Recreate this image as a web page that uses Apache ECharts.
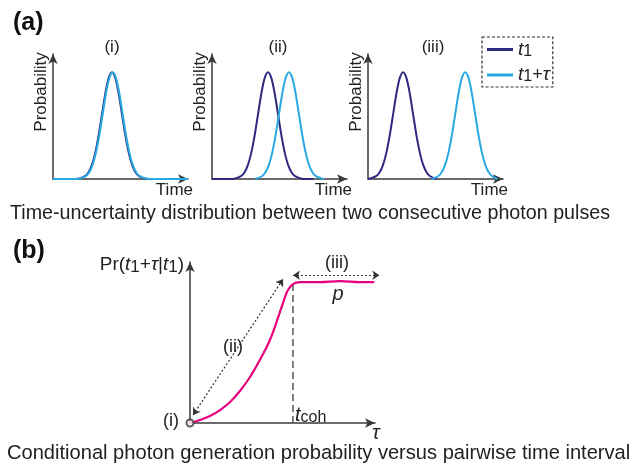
<!DOCTYPE html>
<html>
<head>
<meta charset="utf-8">
<script src="https://cdn.jsdelivr.net/npm/echarts@6/dist/echarts.min.js"></script>
<style>
html, body { margin: 0; padding: 0; background: #fff; }
#chart { width: 636px; height: 466px; }
</style>
</head>
<body>
<div id="chart"></div>
<script>
// (a) pulse profile: height vs offset from the pulse centre (time units)
const pulseOffsets = [-3, -2.5, -2, -1.75, -1.5, -1.25, -1, -0.75, -0.5, -0.25, 0, 0.25, 0.5, 0.75, 1, 1.25, 1.5, 1.75, 2, 2.5, 3]
const pulseHeights = [0, 0.003, 0.026, 0.061, 0.128, 0.24, 0.401, 0.598, 0.796, 0.944, 1, 0.944, 0.796, 0.598, 0.401, 0.24, 0.128, 0.061, 0.026, 0.003, 0]
// pulse centres of t1 and t1+tau for cases (i), (ii), (iii)
const panelTitles = ['(i)', '(ii)', '(iii)']
const centresT1 = [4.37, 4.15, 2.6]
const centresT1Tau = [4.42, 5.7, 7.2]
// where each trace starts / stops on the time axis
const spansT1 = [[0, 10], [0, 7.5], [0, 5.1]]
const spansT1Tau = [[0, 10], [3.2, 8.3], [4.7, 9.6]]

// (b) conditional probability vs tau
const tauValues = [0, 0.53, 1.05, 1.58, 2.11, 2.63, 3.16, 3.68, 4.21, 4.63, 4.95, 5.16, 5.42, 5.79, 6.84, 7.89, 8.95, 9.7]
const prValues = [0, 0.018, 0.042, 0.078, 0.127, 0.193, 0.277, 0.38, 0.5, 0.633, 0.741, 0.801, 0.837, 0.849, 0.849, 0.855, 0.849, 0.849]
const tCoh = 5.42
const pLevel = 0.849
const arrowII = [[0.16, 0.048], [4.9, 0.867]]
const arrowIII = [[5.42, 0.89], [9.97, 0.89]]

const DARK = '#2f2a80'
const LIGHT = '#29a9e1'
const PINK = '#e6007e'
const AXIS = '#3a3a3a'
const FONT = 'Liberation Sans, Arial, sans-serif'

const chart = echarts.init(document.getElementById('chart'))

const pulse = (centre, span) => {
    const pts = [[span[0], 0]]
    pulseOffsets.forEach((d, k) => {
        const x = centre + d
        if (x > span[0] && x < span[1]) pts.push([x, pulseHeights[k]])
    })
    pts.push([span[1], 0])
    return pts
}

const axisLine = {
    show: true,
    symbol: ['none', 'arrow'],
    symbolSize: [7, 10],
    lineStyle: { color: AXIS, width: 1.5 }
}
const bareAxis = (extra) => Object.assign({
    type: 'value',
    axisLine,
    axisTick: { show: false },
    axisLabel: { show: false },
    splitLine: { show: false }
}, extra)

const gridsA = [53, 212, 368]
const grids = gridsA.map(left => ({ left, top: 54, width: 135, height: 125 }))
grids.push({ left: 190, top: 262, width: 185, height: 161 })

const xAxis = [0, 1, 2].map(i => bareAxis({ gridIndex: i, min: 0, max: 10 }))
xAxis.push(bareAxis({ gridIndex: 3, min: 0, max: 9.74 }))
const yAxis = [0, 1, 2].map(i => bareAxis({ gridIndex: i, min: 0, max: 1.17 }))
yAxis.push(bareAxis({ gridIndex: 3, min: 0, max: 0.97 }))

const series = []
for (let i = 0; i < 3; i++) {
    series.push({
        name: 't1', type: 'line', xAxisIndex: i, yAxisIndex: i,
        data: pulse(centresT1[i], spansT1[i]), smooth: 0.3, showSymbol: false,
        color: DARK, lineStyle: { width: 2, color: DARK }, z: 3
    })
    series.push({
        name: 't1+τ', type: 'line', xAxisIndex: i, yAxisIndex: i,
        data: pulse(centresT1Tau[i], spansT1Tau[i]), smooth: 0.3, showSymbol: false,
        color: LIGHT, lineStyle: { width: 2, color: LIGHT }, z: 4
    })
}
series.push({
    type: 'line', xAxisIndex: 3, yAxisIndex: 3, clip: false,
    data: tauValues.map((t, k) => [t, prValues[k]]), smooth: 0.4, showSymbol: false,
    lineStyle: { width: 2.2, color: PINK }, z: 4
})
series.push({
    type: 'line', xAxisIndex: 3, yAxisIndex: 3,
    data: [[tCoh, 0], [tCoh, pLevel]], showSymbol: false,
    lineStyle: { width: 1.5, color: '#555', type: [7, 4] }, z: 2
})
series.push({
    type: 'lines', coordinateSystem: 'cartesian2d', xAxisIndex: 3, yAxisIndex: 3,
    symbol: ['arrow', 'arrow'], symbolSize: 7, clip: false,
    lineStyle: { color: '#333', width: 1.2, type: [2, 2], opacity: 1 },
    data: [{ coords: arrowII }, { coords: arrowIII }], z: 5
})
series.push({
    type: 'scatter', xAxisIndex: 3, yAxisIndex: 3, clip: false,
    data: [[0, 0]], symbol: 'emptyCircle', symbolSize: 7,
    itemStyle: { color: '#333', borderWidth: 1.6 }, z: 6
})

const txt = (text, x, y, opts) => ({
    type: 'text', x, y, z: 10,
    style: Object.assign({
        text, fontSize: 17, fontFamily: FONT, fill: '#222',
        align: 'center', verticalAlign: 'middle'
    }, opts)
})

const graphic = [
    txt('(a)', 13, 23, { fontSize: 25, fontWeight: 'bold', align: 'left', fill: '#111' }),
    txt('(b)', 13, 251, { fontSize: 25, fontWeight: 'bold', align: 'left', fill: '#111' }),
    txt('Time-uncertainty distribution between two consecutive photon pulses', 10, 214, { align: 'left', fontSize: 19.7 }),
    txt('Conditional photon generation probability versus pairwise time interval', 7, 453, { align: 'left', fontSize: 20.1 }),
    txt('Pr({i|t}{s|1}+{i|τ}|{i|t}{s|1})', 184, 265, {
        align: 'right', fontSize: 19,
        rich: { i: { fontStyle: 'italic', fontSize: 19, fontFamily: FONT }, s: { fontSize: 17, fontFamily: FONT, padding: [4, 0, 0, 0] } }
    }),
    txt('τ', 376, 433, { fontStyle: 'italic', fontSize: 20 }),
    txt('(i)', 171, 421, { fontSize: 18 }),
    txt('(ii)', 233, 347, { fontSize: 18 }),
    txt('(iii)', 337, 263, { fontSize: 18 }),
    txt('p', 338, 294, { fontStyle: 'italic', fontSize: 20 }),
    txt('{i|t}{s|coh}', 295, 415, {
        align: 'left',
        rich: { i: { fontStyle: 'italic', fontSize: 20, fontFamily: FONT }, s: { fontSize: 16, fontFamily: FONT, padding: [6, 0, 0, 0] } }
    })
]
gridsA.forEach((left, i) => {
    graphic.push(txt(panelTitles[i], [112, 278, 433][i], 47, {}))
    graphic.push(txt('Probability', left - 12, 92, { rotation: 0 }))
    graphic[graphic.length - 1].rotation = Math.PI / 2
    graphic.push(txt('Time', left + 140, 190, { align: 'right' }))
})

chart.setOption({
    animation: false,
    grid: grids,
    xAxis,
    yAxis,
    legend: {
        data: ['t1', 't1+τ'],
        orient: 'vertical',
        left: 482,
        top: 37,
        padding: [3, 3, 2, 5],
        itemGap: 6,
        itemWidth: 26,
        itemHeight: 3,
        icon: 'rect',
        selectedMode: false,
        borderColor: '#333',
        borderWidth: 1.2,
        borderType: [3, 2],
        formatter: name => name === 't1' ? '{i|t}{s|1}' : '{i|t}{s|1}+{i|τ}',
        textStyle: {
            fontSize: 18, fontFamily: FONT, color: '#222',
            rich: {
                i: { fontStyle: 'italic', fontSize: 19, fontFamily: FONT },
                s: { fontSize: 16, fontFamily: FONT, padding: [4, 0, 0, 0] }
            }
        }
    },
    graphic,
    series
})
</script>
</body>
</html>
